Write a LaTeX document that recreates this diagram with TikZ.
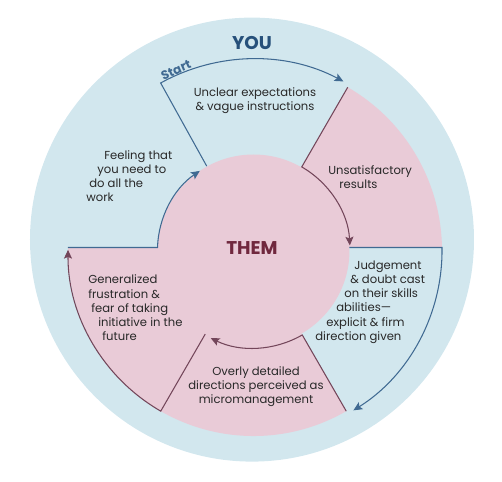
\documentclass[tikz,border=0pt]{standalone}
\usepackage{fontspec}
\usepackage{xcolor}
\usepackage{tikz}
\usetikzlibrary{arrows.meta}
\newfontfamily\cyclefont{Poppins}
\definecolor{cyYou}{RGB}{210,231,238}
\definecolor{cyThem}{RGB}{233,203,215}
\definecolor{cyBlueLine}{RGB}{64,106,146}
\definecolor{cyPinkLine}{RGB}{115,70,90}
\definecolor{cyYouText}{RGB}{38,80,122}
\definecolor{cyThemText}{RGB}{112,40,62}
\definecolor{cyText}{RGB}{40,40,40}
\tikzset{
  cytext/.style={font=\cyclefont\fontsize{6.6}{8.1}\selectfont,text=cyText,inner sep=0pt},
  cytitle/.style={font=\cyclefont\bfseries\fontsize{#1}{#1}\selectfont,inner sep=0pt},
  cyarrow/.style={-{Stealth[length=5pt,width=4.6pt,inset=1pt]},line width=0.6pt,draw=#1},
}

\begin{document}
\begin{tikzpicture}
\useasboundingbox (-5.07,-4.63) rectangle (4.97,5.01);

% =================================================================
% discs and sectors
% =================================================================
\fill[cyYou] (-0.03,0.218) circle[radius=4.44];

\fill[cyThem] (60:1.5) -- (60:3.77) arc[start angle=60,end angle=0.91,radius=3.77]
  -- (1.5,0.06) -- cycle;
\fill[cyThem] (-60:1.5) -- (-60:3.71) arc[start angle=-60,end angle=-180.93,radius=3.71]
  -- (-1.5,0.06) -- cycle;
\fill[cyThem] (0,0) circle[radius=1.92];

% =================================================================
% cycle arrows (clockwise, from "Start")
% =================================================================
\draw[cyarrow=cyBlueLine] (119:1.93) -- (119:3.83) arc[start angle=119,end angle=62,radius=3.83];
\draw[cyarrow=cyPinkLine] (60:3.77) -- (60:1.93) arc[start angle=60,end angle=3,radius=1.93];
\draw[cyarrow=cyBlueLine] (1.92,0.06) -- (3.77,0.06) arc[start angle=0.91,end angle=-58,radius=3.77];
\draw[cyarrow=cyPinkLine] (-60:3.71) -- (-60:1.95) arc[start angle=-60,end angle=-116,radius=1.95];
\draw[cyarrow=cyPinkLine] (-120:1.93) -- (-120:3.71) arc[start angle=-120,end angle=-180.2,radius=3.71];
\draw[cyarrow=cyBlueLine] (-3.71,0.06) -- (-1.92,0.06) arc[start angle=178.2,end angle=124,radius=1.92];

% =================================================================
% labels
% =================================================================
\node[cytitle=10.5, text=cyYouText]  (you)  at (-0.03,4.16) {YOU};
\node[cytitle=10.5, text=cyThemText] (them) at (-0.03,0.05) {THEM};
\node[cytitle=7, text=cyBlueLine, rotate=23] (start) at (-1.55,3.61) {Start};

\node[cytext, align=center] (unclear) at (0.03,3.0)
  {Unclear expectations\\\& vague instructions};
\node[cytext, align=left, anchor=west] (unsat) at (1.49,1.47)
  {Unsatisfactory\\\hspace*{6.3pt}results};
\node[cytext, align=left, anchor=west] (judge) at (1.23,-1.03)
  {\hspace*{22.2pt}Judgement\\\hspace*{19.9pt}\& doubt cast\\\hspace*{16.5pt}on their skills\\
   \hspace*{11.9pt}abilities—\\\hspace*{6.3pt}explicit \& firm\\direction given};
\node[cytext, align=center] (overly) at (0.05,-2.72)
  {Overly detailed\\directions perceived as\\micromanagement};
\node[cytext, align=left, anchor=west] (general) at (-3.31,-1.15)
  {Generalized\\frustration \&\\\hspace*{1.7pt}fear of taking\\\hspace*{5.7pt}initiative in the\\\hspace*{8pt}future};
\node[cytext, align=left, anchor=west] (feeling) at (-3.35,1.49)
  {\hspace*{10.2pt}Feeling that\\\hspace*{6.3pt}you need to\\\hspace*{1.7pt}do all the\\work};

\end{tikzpicture}
\end{document}
